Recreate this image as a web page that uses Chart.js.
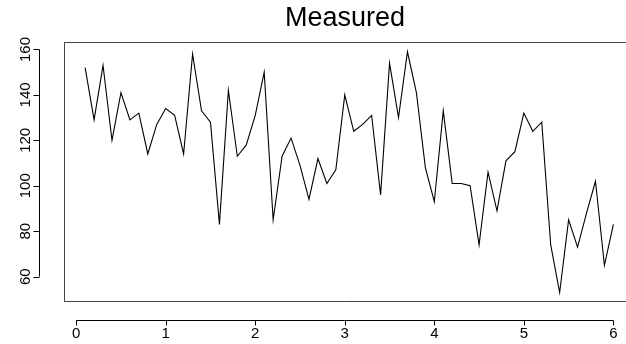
<!DOCTYPE html>
<html>
<head>
<meta charset="utf-8">
<script src="https://cdn.jsdelivr.net/npm/chart.js@4/dist/chart.umd.min.js"></script>
<style>
  html, body { margin: 0; padding: 0; background: #fff; overflow: hidden; }
  #wrap { width: 626px; height: 344px; }
</style>
</head>
<body>
<div id="wrap"><canvas id="measured"></canvas></div>
<script>
  // x positions of the measurements
  var xs = [0.1, 0.2, 0.3, 0.4, 0.5, 0.6, 0.7, 0.8, 0.9, 1.0,
            1.1, 1.2, 1.3, 1.4, 1.5, 1.6, 1.7, 1.8, 1.9, 2.0,
            2.1, 2.2, 2.3, 2.4, 2.5, 2.6, 2.7, 2.8, 2.9, 3.0,
            3.1, 3.2, 3.3, 3.4, 3.5, 3.6, 3.7, 3.8, 3.9, 4.0,
            4.1, 4.2, 4.3, 4.4, 4.5, 4.6, 4.7, 4.8, 4.9, 5.0,
            5.1, 5.2, 5.3, 5.4, 5.5, 5.6, 5.7, 5.8, 5.9, 6.0];
  // measured values
  var measured = [152, 129, 153, 120, 141, 129, 132, 114, 127, 134,
                  131, 114, 158, 133, 128, 83, 142, 113, 118, 131,
                  150, 85, 113, 121, 109, 94, 112, 101, 107, 140,
                  124, 127, 131, 96, 154, 130, 159, 141, 108, 93,
                  133, 101, 101, 100, 74, 106, 89, 111, 115, 132,
                  124, 128, 74, 53, 85, 73, 88, 102, 65, 83];
  var xTicks = [0, 1, 2, 3, 4, 5, 6];
  var yTicks = [60, 80, 100, 120, 140, 160];

  // R style axes drawn apart from the box
  var rAxes = {
    id: 'rAxes',
    afterDraw: function(chart) {
      var ctx = chart.ctx;
      var area = chart.chartArea;
      var sx = chart.scales.x, sy = chart.scales.y;
      ctx.save();
      ctx.lineWidth = 1;
      // top of the box
      ctx.beginPath();
      ctx.moveTo(area.left, Math.round(area.top) + 0.5);
      ctx.lineTo(area.right, Math.round(area.top) + 0.5);
      ctx.strokeStyle = '#444';
      ctx.stroke();
      ctx.strokeStyle = '#000';
      // x axis
      var ay = 320.5;
      ctx.beginPath();
      ctx.moveTo(sx.getPixelForValue(xTicks[0]), ay);
      ctx.lineTo(sx.getPixelForValue(xTicks[xTicks.length - 1]), ay);
      xTicks.forEach(function(v) {
        var px = Math.round(sx.getPixelForValue(v)) + 0.5;
        ctx.moveTo(px, ay);
        ctx.lineTo(px, ay + 5);
      });
      ctx.stroke();
      // y axis
      var ax = 39.5;
      ctx.beginPath();
      ctx.moveTo(ax, sy.getPixelForValue(yTicks[0]));
      ctx.lineTo(ax, sy.getPixelForValue(yTicks[yTicks.length - 1]));
      yTicks.forEach(function(v) {
        var py = Math.round(sy.getPixelForValue(v)) + 0.5;
        ctx.moveTo(ax, py);
        ctx.lineTo(ax - 6, py);
      });
      ctx.stroke();
      ctx.restore();
    }
  };

  var tickFont = { family: '"Liberation Sans", Arial, sans-serif', size: 15 };

  function noPad(s) {
    s.paddingLeft = 0; s.paddingRight = 0;
    s.paddingTop = 0; s.paddingBottom = 0;
  }

  new Chart(document.getElementById('measured'), {
    type: 'line',
    data: {
      datasets: [{
        data: xs.map(function(x, i) { return { x: x, y: measured[i] }; }),
        borderColor: '#000',
        borderWidth: 1.1,
        pointRadius: 0,
        tension: 0,
        fill: false
      }]
    },
    options: {
      responsive: true,
      maintainAspectRatio: false,
      animation: false,
      layout: { padding: 0 },
      plugins: {
        legend: { display: false },
        tooltip: { enabled: false },
        title: {
          display: true,
          text: 'Measured',
          fullSize: false,
          color: '#000',
          font: { family: '"Liberation Sans", Arial, sans-serif', size: 27, weight: 'normal', lineHeight: 1.2 },
          padding: { top: 2.6, bottom: 7 }
        }
      },
      scales: {
        x: {
          type: 'linear',
          min: -0.136,
          max: 6.141,
          afterBuildTicks: function(s) { s.ticks = xTicks.map(function(v) { return { value: v }; }); },
          afterFit: function(s) { s.height = 42.6; noPad(s); },
          grid: { drawOnChartArea: false, drawTicks: false },
          border: { display: true, color: '#444', width: 1 },
          ticks: { color: '#000', font: tickFont, padding: 23.5, maxRotation: 0, autoSkip: false }
        },
        y: {
          min: 49.1,
          max: 163.3,
          afterBuildTicks: function(s) { s.ticks = yTicks.map(function(v) { return { value: v }; }); },
          afterFit: function(s) { s.width = 64; noPad(s); },
          grid: { drawOnChartArea: false, drawTicks: false },
          border: { display: true, color: '#444', width: 1 },
          ticks: { color: '#000', font: tickFont, padding: 25.5, minRotation: 90, maxRotation: 90, crossAlign: 'center', autoSkip: false }
        }
      }
    },
    plugins: [rAxes]
  });
</script>
</body>
</html>
